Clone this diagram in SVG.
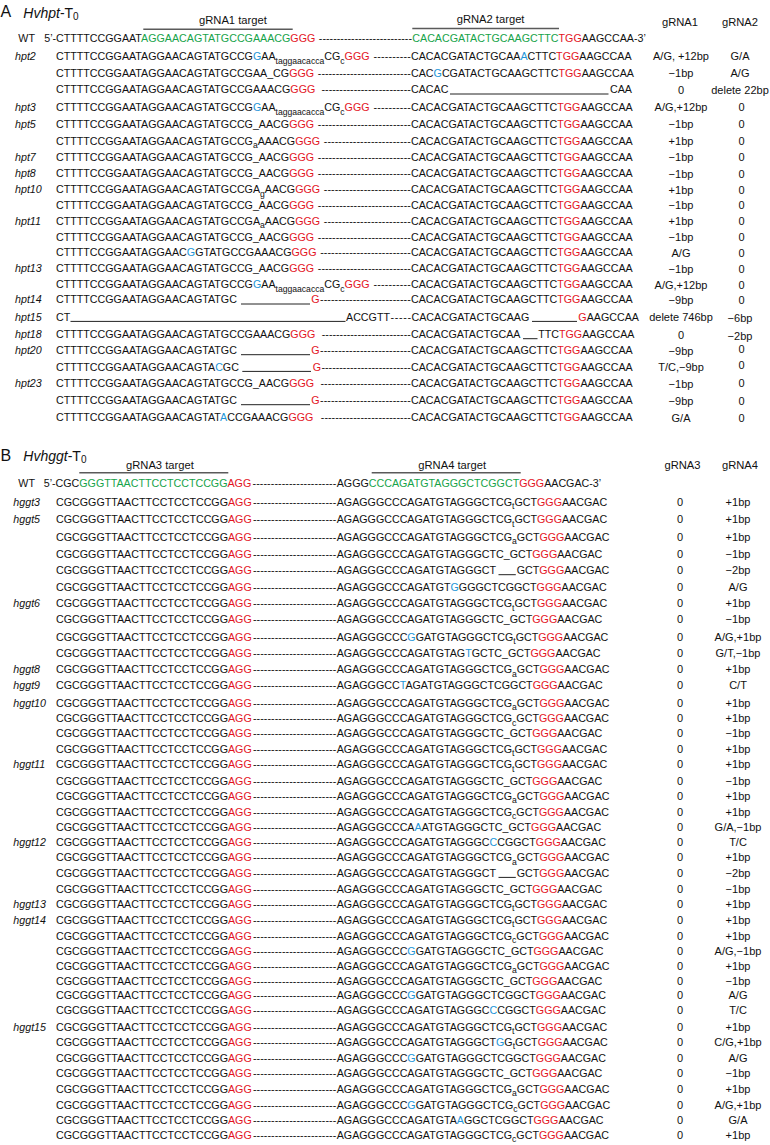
<svg xmlns="http://www.w3.org/2000/svg" width="770" height="1145" viewBox="0 0 770 1145">
<style>
text{font-family:"Liberation Sans",Arial,Helvetica,sans-serif;fill:#111}
.s{font-size:10.7px}
.u{font-size:8.6px}
.g{fill:#17a34a}
.r{fill:#e3141e}
.b{fill:#2295d8}
.i{font-style:italic;font-size:10.7px}
.v{font-size:11px;text-anchor:middle}
.h{font-size:11.2px}
.hc{font-size:11.2px;text-anchor:middle}
.t{font-size:14px}
.big{font-size:16px}
.ol{stroke:#5a5a5a;stroke-width:1.5}
.dl{stroke:#222;stroke-width:1}
</style>
<rect width="770" height="1145" fill="#fff"/>
<g id="sectionA">
<g id="titleA"><text class="big" x="0.5" y="17.4">A</text><text class="t" x="23.3" y="17.6"><tspan font-style="italic">Hvhpt</tspan>-T<tspan font-size="10" dy="2">0</tspan></text></g>
<g id="gRNA1-target"><line class="ol" x1="143.3" y1="29.3" x2="292.7" y2="29.3"/><text class="h" x="199" y="23.8">gRNA1 target</text></g>
<g id="gRNA2-target"><line class="ol" x1="412.3" y1="28.6" x2="559" y2="28.6"/><text class="h" x="456.7" y="23.3">gRNA2 target</text></g>
<g id="headA"><text class="hc" x="680" y="25.7">gRNA1</text><text class="hc" x="740" y="25.7">gRNA2</text></g>
<g id="A-WT">
<text class="s" x="18.3" y="42.2">WT</text>
<text class="s" x="44.3" y="42.2">5’-<tspan x="56">CTTTTCCGGAAT</tspan><tspan class="g">AGGAACAGTATGCCGAAACG</tspan><tspan class="r">GGG</tspan></text>
<text class="s" x="318.8" y="42.2" textLength="93.2" lengthAdjust="spacing">--------------------------</text>
<text class="s" x="412.3" y="42.2"><tspan class="g">CACACGATACTGCAAGCTTC</tspan><tspan class="r">TGG</tspan>AAGCCAA-3’</text>
</g>
<g id="hpt2-1">
<text class="i" x="15" y="59.9">hpt2</text>
<text class="s" x="56" y="59.9">CTTTTCCGGAATAGGAACAGTATGCCG<tspan class="b">G</tspan>AA<tspan class="u" dy="4">taggaacacca</tspan><tspan dy="-4">CG</tspan><tspan class="u" dy="4">c</tspan><tspan class="r" dy="-4">GGG</tspan></text>
<text class="s" x="373.4" y="59.9" textLength="37.4" lengthAdjust="spacing">----------</text>
<text class="s" x="411" y="59.9">CACACGATACTGCAA<tspan class="b">A</tspan>CTTC<tspan class="r">TGG</tspan>AAGCCAA</text>
<text class="v" x="681" y="60.2">A/G, +12bp</text><text class="v" x="740" y="60.2">G/A</text>
</g>
<g id="hpt2-2">
<text class="s" x="56" y="76.6">CTTTTCCGGAATAGGAACAGTATGCCGAA_CG<tspan class="r">GGG</tspan></text>
<text class="s" x="317.8" y="76.6" textLength="93" lengthAdjust="spacing">--------------------------</text>
<text class="s" x="411" y="76.6">CAC<tspan class="b">G</tspan>CGATACTGCAAGCTTC<tspan class="r">TGG</tspan>AAGCCAA</text>
<text class="v" x="681" y="76.9">−1bp</text><text class="v" x="740" y="76.9">A/G</text>
</g>
<g id="hpt2-3">
<text class="s" x="56" y="93.2">CTTTTCCGGAATAGGAACAGTATGCCGAAACG<tspan class="r">GGG</tspan></text>
<text class="s" x="321.5" y="93.2" textLength="89.3" lengthAdjust="spacing">-------------------------</text>
<text class="s" x="411" y="93.2">CACAC<tspan x="610">CAA</tspan></text>
<line class="dl" x1="450" y1="94" x2="608.5" y2="94"/>
<text class="v" x="681" y="93.5">0</text><text class="v" x="740" y="93.5">delete 22bp</text>
</g>
<g id="hpt3">
<text class="i" x="15" y="110.6">hpt3</text>
<text class="s" x="56" y="110.6">CTTTTCCGGAATAGGAACAGTATGCCG<tspan class="b">G</tspan>AA<tspan class="u" dy="4">taggaacacca</tspan><tspan dy="-4">CG</tspan><tspan class="u" dy="4">c</tspan><tspan class="r" dy="-4">GGG</tspan></text>
<text class="s" x="373.4" y="110.6" textLength="37.4" lengthAdjust="spacing">----------</text>
<text class="s" x="411" y="110.6">CACACGATACTGCAAGCTTC<tspan class="r">TGG</tspan>AAGCCAA</text>
<text class="v" x="681" y="110.9">A/G,+12bp</text><text class="v" x="741.5" y="110.9">0</text>
</g>
<g id="hpt5-1">
<text class="i" x="15" y="127.9">hpt5</text>
<text class="s" x="56" y="127.9">CTTTTCCGGAATAGGAACAGTATGCCG_AACG<tspan class="r">GGG</tspan></text>
<text class="s" x="317.8" y="127.9" textLength="93" lengthAdjust="spacing">--------------------------</text>
<text class="s" x="411" y="127.9">CACACGATACTGCAAGCTTC<tspan class="r">TGG</tspan>AAGCCAA</text>
<text class="v" x="681" y="128.2">−1bp</text><text class="v" x="741.5" y="128.2">0</text>
</g>
<g id="hpt5-2">
<text class="s" x="56" y="144.9">CTTTTCCGGAATAGGAACAGTATGCCG<tspan class="u" dy="3.5">a</tspan><tspan dy="-3.5">AAACG</tspan><tspan class="r">GGG</tspan></text>
<text class="s" x="323.8" y="144.9" textLength="87" lengthAdjust="spacing">------------------------</text>
<text class="s" x="411" y="144.9">CACACGATACTGCAAGCTTC<tspan class="r">TGG</tspan>AAGCCAA</text>
<text class="v" x="681" y="145.2">+1bp</text><text class="v" x="741.5" y="145.2">0</text>
</g>
<g id="hpt7">
<text class="i" x="15" y="160.6">hpt7</text>
<text class="s" x="56" y="160.6">CTTTTCCGGAATAGGAACAGTATGCCG_AACG<tspan class="r">GGG</tspan></text>
<text class="s" x="317.8" y="160.6" textLength="93" lengthAdjust="spacing">--------------------------</text>
<text class="s" x="411" y="160.6">CACACGATACTGCAAGCTTC<tspan class="r">TGG</tspan>AAGCCAA</text>
<text class="v" x="681" y="160.9">−1bp</text><text class="v" x="741.5" y="160.9">0</text>
</g>
<g id="hpt8">
<text class="i" x="15" y="177.2">hpt8</text>
<text class="s" x="56" y="177.2">CTTTTCCGGAATAGGAACAGTATGCCG_AACG<tspan class="r">GGG</tspan></text>
<text class="s" x="317.8" y="177.2" textLength="93" lengthAdjust="spacing">--------------------------</text>
<text class="s" x="411" y="177.2">CACACGATACTGCAAGCTTC<tspan class="r">TGG</tspan>AAGCCAA</text>
<text class="v" x="681" y="177.5">−1bp</text><text class="v" x="741.5" y="177.5">0</text>
</g>
<g id="hpt10-1">
<text class="i" x="15" y="193.2">hpt10</text>
<text class="s" x="56" y="193.2">CTTTTCCGGAATAGGAACAGTATGCCGA<tspan class="u" dy="3.5">g</tspan><tspan dy="-3.5">AACG</tspan><tspan class="r">GGG</tspan></text>
<text class="s" x="323.8" y="193.2" textLength="87" lengthAdjust="spacing">------------------------</text>
<text class="s" x="411" y="193.2">CACACGATACTGCAAGCTTC<tspan class="r">TGG</tspan>AAGCCAA</text>
<text class="v" x="681" y="193.5">+1bp</text><text class="v" x="741.5" y="193.5">0</text>
</g>
<g id="hpt10-2">
<text class="s" x="56" y="208.9">CTTTTCCGGAATAGGAACAGTATGCCG_AACG<tspan class="r">GGG</tspan></text>
<text class="s" x="317.8" y="208.9" textLength="93" lengthAdjust="spacing">--------------------------</text>
<text class="s" x="411" y="208.9">CACACGATACTGCAAGCTTC<tspan class="r">TGG</tspan>AAGCCAA</text>
<text class="v" x="681" y="209.2">−1bp</text><text class="v" x="741.5" y="209.2">0</text>
</g>
<g id="hpt11-1">
<text class="i" x="15" y="224.6">hpt11</text>
<text class="s" x="56" y="224.6">CTTTTCCGGAATAGGAACAGTATGCCGA<tspan class="u" dy="3.5">a</tspan><tspan dy="-3.5">AACG</tspan><tspan class="r">GGG</tspan></text>
<text class="s" x="323.8" y="224.6" textLength="87" lengthAdjust="spacing">------------------------</text>
<text class="s" x="411" y="224.6">CACACGATACTGCAAGCTTC<tspan class="r">TGG</tspan>AAGCCAA</text>
<text class="v" x="681" y="224.9">+1bp</text><text class="v" x="741.5" y="224.9">0</text>
</g>
<g id="hpt11-2">
<text class="s" x="56" y="240.6">CTTTTCCGGAATAGGAACAGTATGCCG_AACG<tspan class="r">GGG</tspan></text>
<text class="s" x="317.8" y="240.6" textLength="93" lengthAdjust="spacing">--------------------------</text>
<text class="s" x="411" y="240.6">CACACGATACTGCAAGCTTC<tspan class="r">TGG</tspan>AAGCCAA</text>
<text class="v" x="681" y="240.9">−1bp</text><text class="v" x="741.5" y="240.9">0</text>
</g>
<g id="hpt11-3">
<text class="s" x="56" y="256.2">CTTTTCCGGAATAGGAAC<tspan class="b">G</tspan>GTATGCCGAAACG<tspan class="r">GGG</tspan></text>
<text class="s" x="320.2" y="256.2" textLength="90.6" lengthAdjust="spacing">-------------------------</text>
<text class="s" x="411" y="256.2">CACACGATACTGCAAGCTTC<tspan class="r">TGG</tspan>AAGCCAA</text>
<text class="v" x="681" y="256.5">A/G</text><text class="v" x="741.5" y="256.5">0</text>
</g>
<g id="hpt13-1">
<text class="i" x="15" y="272.2">hpt13</text>
<text class="s" x="56" y="272.2">CTTTTCCGGAATAGGAACAGTATGCCG_AACG<tspan class="r">GGG</tspan></text>
<text class="s" x="317.8" y="272.2" textLength="93" lengthAdjust="spacing">--------------------------</text>
<text class="s" x="411" y="272.2">CACACGATACTGCAAGCTTC<tspan class="r">TGG</tspan>AAGCCAA</text>
<text class="v" x="681" y="272.5">−1bp</text><text class="v" x="741.5" y="272.5">0</text>
</g>
<g id="hpt13-2">
<text class="s" x="56" y="288.2">CTTTTCCGGAATAGGAACAGTATGCCG<tspan class="b">G</tspan>AA<tspan class="u" dy="4">taggaacacca</tspan><tspan dy="-4">CG</tspan><tspan class="u" dy="4">c</tspan><tspan class="r" dy="-4">GGG</tspan></text>
<text class="s" x="373.4" y="288.2" textLength="37.4" lengthAdjust="spacing">----------</text>
<text class="s" x="411" y="288.2">CACACGATACTGCAAGCTTC<tspan class="r">TGG</tspan>AAGCCAA</text>
<text class="v" x="681" y="288.5">A/G,+12bp</text><text class="v" x="741.5" y="288.5">0</text>
</g>
<g id="hpt14">
<text class="i" x="15" y="303.2">hpt14</text>
<text class="s" x="56" y="303.2">CTTTTCCGGAATAGGAACAGTATGC<tspan class="r" x="311.3">G</tspan></text>
<line class="dl" x1="241" y1="304" x2="310" y2="304"/>
<text class="s" x="320" y="303.2" textLength="90.8" lengthAdjust="spacing">-------------------------</text>
<text class="s" x="411" y="303.2">CACACGATACTGCAAGCTTC<tspan class="r">TGG</tspan>AAGCCAA</text>
<text class="v" x="681" y="303.5">−9bp</text><text class="v" x="741.5" y="303.5">0</text>
</g>
<g id="hpt15">
<text class="i" x="15" y="320.6">hpt15</text>
<text class="s" x="56" y="320.6">CT<tspan x="346">ACCGTT</tspan></text>
<line class="dl" x1="70.5" y1="321.4" x2="345.5" y2="321.4"/>
<text class="s" x="390.4" y="320.6" textLength="20.6" lengthAdjust="spacing">-----</text>
<text class="s" x="411.5" y="320.6">CACACGATACTGCAAG<tspan class="r" x="578.3">G</tspan>AAGCCAA</text>
<line class="dl" x1="532" y1="321.4" x2="577" y2="321.4"/>
<text class="v" x="681" y="320.6">delete 746bp</text><text class="v" x="740" y="321.8">−6bp</text>
</g>
<g id="hpt18">
<text class="i" x="15" y="337.9">hpt18</text>
<text class="s" x="56" y="337.9">CTTTTCCGGAATAGGAACAGTATGCCGAAACG<tspan class="r">GGG</tspan></text>
<text class="s" x="321.8" y="337.9" textLength="89" lengthAdjust="spacing">-------------------------</text>
<text class="s" x="411" y="337.9">CACACGATACTGCAA<tspan x="538.2">TTC</tspan><tspan class="r">TGG</tspan>AAGCCAA</text>
<line class="dl" x1="523" y1="338.7" x2="537.5" y2="338.7"/>
<text class="v" x="681" y="338.6">0</text><text class="v" x="740" y="340.2">−2bp</text>
</g>
<g id="hpt20-1">
<text class="i" x="15" y="353.9">hpt20</text>
<text class="s" x="56" y="353.9">CTTTTCCGGAATAGGAACAGTATGC<tspan class="r" x="311.3">G</tspan></text>
<line class="dl" x1="241" y1="354.7" x2="310" y2="354.7"/>
<text class="s" x="320" y="353.9" textLength="90.8" lengthAdjust="spacing">-------------------------</text>
<text class="s" x="411" y="353.9">CACACGATACTGCAAGCTTC<tspan class="r">TGG</tspan>AAGCCAA</text>
<text class="v" x="681" y="354.6">−9bp</text><text class="v" x="741.5" y="353.4">0</text>
</g>
<g id="hpt20-2">
<text class="s" x="56" y="370.6">CTTTTCCGGAATAGGAACAGTA<tspan class="b">C</tspan>GC<tspan class="r" x="312.8">G</tspan></text>
<line class="dl" x1="242.3" y1="371.4" x2="311" y2="371.4"/>
<text class="s" x="321.4" y="370.6" textLength="89.4" lengthAdjust="spacing">-------------------------</text>
<text class="s" x="411" y="370.6">CACACGATACTGCAAGCTTC<tspan class="r">TGG</tspan>AAGCCAA</text>
<text class="v" x="681" y="370.9">T/C,−9bp</text><text class="v" x="741.5" y="369.4">0</text>
</g>
<g id="hpt23-1">
<text class="i" x="15" y="387.2">hpt23</text>
<text class="s" x="56" y="387.2">CTTTTCCGGAATAGGAACAGTATGCCG_AACG<tspan class="r">GGG</tspan></text>
<text class="s" x="320.5" y="387.2" textLength="90.3" lengthAdjust="spacing">-------------------------</text>
<text class="s" x="411" y="387.2">CACACGATACTGCAAGCTTC<tspan class="r">TGG</tspan>AAGCCAA</text>
<text class="v" x="681" y="387.5">−1bp</text><text class="v" x="741.5" y="386.5">0</text>
</g>
<g id="hpt23-2">
<text class="s" x="56" y="403.9">CTTTTCCGGAATAGGAACAGTATGC<tspan class="r" x="311.3">G</tspan></text>
<line class="dl" x1="241" y1="404.7" x2="310" y2="404.7"/>
<text class="s" x="320" y="403.9" textLength="90.8" lengthAdjust="spacing">-------------------------</text>
<text class="s" x="411" y="403.9">CACACGATACTGCAAGCTTC<tspan class="r">TGG</tspan>AAGCCAA</text>
<text class="v" x="681" y="404.6">−9bp</text><text class="v" x="741.5" y="404.6">0</text>
</g>
<g id="hpt23-3">
<text class="s" x="56" y="420.6">CTTTTCCGGAATAGGAACAGTAT<tspan class="b">A</tspan>CCGAAACG<tspan class="r">GGG</tspan></text>
<text class="s" x="320.8" y="420.6" textLength="90" lengthAdjust="spacing">-------------------------</text>
<text class="s" x="411" y="420.6">CACACGATACTGCAAGCTTC<tspan class="r">TGG</tspan>AAGCCAA</text>
<text class="v" x="681" y="421.6">G/A</text><text class="v" x="741.5" y="421.6">0</text>
</g>
</g>
<g id="sectionB">
<g id="titleB"><text class="big" x="0.5" y="460.8">B</text><text class="t" x="23.3" y="461"><tspan font-style="italic">Hvhggt</tspan>-T<tspan font-size="10" dy="2">0</tspan></text></g>
<g id="gRNA3-target"><line class="ol" x1="79.3" y1="472.7" x2="228.3" y2="472.7"/><text class="h" x="126" y="469">gRNA3 target</text></g>
<g id="gRNA4-target"><line class="ol" x1="371.7" y1="472.7" x2="520.7" y2="472.7"/><text class="h" x="418.3" y="469">gRNA4 target</text></g>
<g id="headB"><text class="hc" x="682.5" y="469">gRNA3</text><text class="hc" x="740" y="469">gRNA4</text></g>
<g id="B-WT">
<text class="s" x="18.3" y="487.2">WT</text>
<text class="s" x="43.7" y="487.2">5’-<tspan x="55.5">CGC</tspan><tspan class="g">GGGTTAACTTCCTCCTCCGG</tspan><tspan class="r">AGG</tspan></text>
<text class="s" x="252.5" y="487.2" textLength="83.8" lengthAdjust="spacing">-----------------------</text>
<text class="s" x="336.7" y="487.2">AGGG<tspan class="g">CCCAGATGTAGGGCTCGGCT</tspan><tspan class="r">GGG</tspan>AACGAC-3’</text>
</g>
<g id="hggt3"><text class="i" x="13.3" y="505.6">hggt3</text><text class="s" x="56" y="505.6">CGCGGGTTAACTTCCTCCTCCGG<tspan class="r">AGG</tspan></text><text class="s" x="253" y="505.6" textLength="83.3" lengthAdjust="spacing">-----------------------</text><text class="s" x="336.7" y="505.6">AGAGGGCCCAGATGTAGGGCTCG<tspan class="u" dy="3.5">t</tspan><tspan dy="-3.5">GCT</tspan><tspan class="r">GGG</tspan>AACGAC</text><text class="v" x="680" y="505.6">0</text><text class="v" x="738" y="505.6">+1bp</text></g>
<g id="hggt5-1"><text class="i" x="13.3" y="523.2">hggt5</text><text class="s" x="56" y="523.2">CGCGGGTTAACTTCCTCCTCCGG<tspan class="r">AGG</tspan></text><text class="s" x="253" y="523.2" textLength="83.3" lengthAdjust="spacing">-----------------------</text><text class="s" x="336.7" y="523.2">AGAGGGCCCAGATGTAGGGCTCG<tspan class="u" dy="3.5">t</tspan><tspan dy="-3.5">GCT</tspan><tspan class="r">GGG</tspan>AACGAC</text><text class="v" x="680" y="523.2">0</text><text class="v" x="738" y="523.2">+1bp</text></g>
<g id="hggt5-2"><text class="s" x="56" y="540.6">CGCGGGTTAACTTCCTCCTCCGG<tspan class="r">AGG</tspan></text><text class="s" x="253" y="540.6" textLength="83.3" lengthAdjust="spacing">-----------------------</text><text class="s" x="336.7" y="540.6">AGAGGGCCCAGATGTAGGGCTCG<tspan class="u" dy="3.5">a</tspan><tspan dy="-3.5">GCT</tspan><tspan class="r">GGG</tspan>AACGAC</text><text class="v" x="680" y="540.6">0</text><text class="v" x="738" y="540.6">+1bp</text></g>
<g id="hggt5-3"><text class="s" x="56" y="557.9">CGCGGGTTAACTTCCTCCTCCGG<tspan class="r">AGG</tspan></text><text class="s" x="253" y="557.9" textLength="83.3" lengthAdjust="spacing">-----------------------</text><text class="s" x="336.7" y="557.9">AGAGGGCCCAGATGTAGGGCTC_GCT<tspan class="r">GGG</tspan>AACGAC</text><text class="v" x="680" y="557.9">0</text><text class="v" x="738" y="557.9">−1bp</text></g>
<g id="hggt5-4"><text class="s" x="56" y="573.9">CGCGGGTTAACTTCCTCCTCCGG<tspan class="r">AGG</tspan></text><text class="s" x="253" y="573.9" textLength="83.3" lengthAdjust="spacing">-----------------------</text><text class="s" x="336.7" y="573.9">AGAGGGCCCAGATGTAGGGCT<tspan x="516.7">GCT</tspan><tspan class="r">GGG</tspan>AACGAC</text><line class="dl" x1="498.5" y1="574.7" x2="515.8" y2="574.7"/><text class="v" x="680" y="573.9">0</text><text class="v" x="738" y="573.9">−2bp</text></g>
<g id="hggt5-5"><text class="s" x="56" y="591.2">CGCGGGTTAACTTCCTCCTCCGG<tspan class="r">AGG</tspan></text><text class="s" x="253" y="591.2" textLength="83.3" lengthAdjust="spacing">-----------------------</text><text class="s" x="336.7" y="591.2">AGAGGGCCCAGATGT<tspan class="b">G</tspan>GGGCTCGGCT<tspan class="r">GGG</tspan>AACGAC</text><text class="v" x="680" y="591.2">0</text><text class="v" x="738" y="591.2">A/G</text></g>
<g id="hggt6-1"><text class="i" x="13.3" y="607.2">hggt6</text><text class="s" x="56" y="607.2">CGCGGGTTAACTTCCTCCTCCGG<tspan class="r">AGG</tspan></text><text class="s" x="253" y="607.2" textLength="83.3" lengthAdjust="spacing">-----------------------</text><text class="s" x="336.7" y="607.2">AGAGGGCCCAGATGTAGGGCTCG<tspan class="u" dy="3.5">t</tspan><tspan dy="-3.5">GCT</tspan><tspan class="r">GGG</tspan>AACGAC</text><text class="v" x="680" y="607.2">0</text><text class="v" x="738" y="607.2">+1bp</text></g>
<g id="hggt6-2"><text class="s" x="56" y="623.2">CGCGGGTTAACTTCCTCCTCCGG<tspan class="r">AGG</tspan></text><text class="s" x="253" y="623.2" textLength="83.3" lengthAdjust="spacing">-----------------------</text><text class="s" x="336.7" y="623.2">AGAGGGCCCAGATGTAGGGCTC_GCT<tspan class="r">GGG</tspan>AACGAC</text><text class="v" x="680" y="623.2">0</text><text class="v" x="738" y="623.2">−1bp</text></g>
<g id="hggt6-3"><text class="s" x="56" y="640.6">CGCGGGTTAACTTCCTCCTCCGG<tspan class="r">AGG</tspan></text><text class="s" x="253" y="640.6" textLength="83.3" lengthAdjust="spacing">-----------------------</text><text class="s" x="336.7" y="640.6">AGAGGGCCC<tspan class="b">G</tspan>GATGTAGGGCTCG<tspan class="u" dy="3.5">t</tspan><tspan dy="-3.5">GCT</tspan><tspan class="r">GGG</tspan>AACGAC</text><text class="v" x="680" y="640.6">0</text><text class="v" x="738" y="640.6">A/G,+1bp</text></g>
<g id="hggt6-4"><text class="s" x="56" y="657.2">CGCGGGTTAACTTCCTCCTCCGG<tspan class="r">AGG</tspan></text><text class="s" x="253" y="657.2" textLength="83.3" lengthAdjust="spacing">-----------------------</text><text class="s" x="336.7" y="657.2">AGAGGGCCCAGATGTAG<tspan class="b">T</tspan>GCTC_GCT<tspan class="r">GGG</tspan>AACGAC</text><text class="v" x="680" y="657.2">0</text><text class="v" x="738" y="657.2">G/T,−1bp</text></g>
<g id="hggt8"><text class="i" x="13.3" y="673.2">hggt8</text><text class="s" x="56" y="673.2">CGCGGGTTAACTTCCTCCTCCGG<tspan class="r">AGG</tspan></text><text class="s" x="253" y="673.2" textLength="83.3" lengthAdjust="spacing">-----------------------</text><text class="s" x="336.7" y="673.2">AGAGGGCCCAGATGTAGGGCTCG<tspan class="u" dy="3.5">a</tspan><tspan dy="-3.5">GCT</tspan><tspan class="r">GGG</tspan>AACGAC</text><text class="v" x="680" y="673.2">0</text><text class="v" x="738" y="673.2">+1bp</text></g>
<g id="hggt9"><text class="i" x="13.3" y="688.9">hggt9</text><text class="s" x="56" y="688.9">CGCGGGTTAACTTCCTCCTCCGG<tspan class="r">AGG</tspan></text><text class="s" x="253" y="688.9" textLength="83.3" lengthAdjust="spacing">-----------------------</text><text class="s" x="336.7" y="688.9">AGAGGGCC<tspan class="b">T</tspan>AGATGTAGGGCTCGGCT<tspan class="r">GGG</tspan>AACGAC</text><text class="v" x="680" y="688.9">0</text><text class="v" x="738" y="688.9">C/T</text></g>
<g id="hggt10-1"><text class="i" x="13.3" y="706.6">hggt10</text><text class="s" x="56" y="706.6">CGCGGGTTAACTTCCTCCTCCGG<tspan class="r">AGG</tspan></text><text class="s" x="253" y="706.6" textLength="83.3" lengthAdjust="spacing">-----------------------</text><text class="s" x="336.7" y="706.6">AGAGGGCCCAGATGTAGGGCTCG<tspan class="u" dy="3.5">a</tspan><tspan dy="-3.5">GCT</tspan><tspan class="r">GGG</tspan>AACGAC</text><text class="v" x="680" y="706.6">0</text><text class="v" x="738" y="706.6">+1bp</text></g>
<g id="hggt10-2"><text class="s" x="56" y="722.2">CGCGGGTTAACTTCCTCCTCCGG<tspan class="r">AGG</tspan></text><text class="s" x="253" y="722.2" textLength="83.3" lengthAdjust="spacing">-----------------------</text><text class="s" x="336.7" y="722.2">AGAGGGCCCAGATGTAGGGCTCG<tspan class="u" dy="3.5">c</tspan><tspan dy="-3.5">GCT</tspan><tspan class="r">GGG</tspan>AACGAC</text><text class="v" x="680" y="722.2">0</text><text class="v" x="738" y="722.2">+1bp</text></g>
<g id="hggt10-3"><text class="s" x="56" y="736.6">CGCGGGTTAACTTCCTCCTCCGG<tspan class="r">AGG</tspan></text><text class="s" x="253" y="736.6" textLength="83.3" lengthAdjust="spacing">-----------------------</text><text class="s" x="336.7" y="736.6">AGAGGGCCCAGATGTAGGGCTC_GCT<tspan class="r">GGG</tspan>AACGAC</text><text class="v" x="680" y="736.6">0</text><text class="v" x="738" y="736.6">−1bp</text></g>
<g id="hggt10-4"><text class="s" x="56" y="752.9">CGCGGGTTAACTTCCTCCTCCGG<tspan class="r">AGG</tspan></text><text class="s" x="253" y="752.9" textLength="83.3" lengthAdjust="spacing">-----------------------</text><text class="s" x="336.7" y="752.9">AGAGGGCCCAGATGTAGGGCTCG<tspan class="u" dy="3.5">t</tspan><tspan dy="-3.5">GCT</tspan><tspan class="r">GGG</tspan>AACGAC</text><text class="v" x="680" y="752.9">0</text><text class="v" x="738" y="752.9">+1bp</text></g>
<g id="hggt11-1"><text class="i" x="13.3" y="768.2">hggt11</text><text class="s" x="56" y="768.2">CGCGGGTTAACTTCCTCCTCCGG<tspan class="r">AGG</tspan></text><text class="s" x="253" y="768.2" textLength="83.3" lengthAdjust="spacing">-----------------------</text><text class="s" x="336.7" y="768.2">AGAGGGCCCAGATGTAGGGCTCG<tspan class="u" dy="3.5">t</tspan><tspan dy="-3.5">GCT</tspan><tspan class="r">GGG</tspan>AACGAC</text><text class="v" x="680" y="768.2">0</text><text class="v" x="738" y="768.2">+1bp</text></g>
<g id="hggt11-2"><text class="s" x="56" y="784.6">CGCGGGTTAACTTCCTCCTCCGG<tspan class="r">AGG</tspan></text><text class="s" x="253" y="784.6" textLength="83.3" lengthAdjust="spacing">-----------------------</text><text class="s" x="336.7" y="784.6">AGAGGGCCCAGATGTAGGGCTC_GCT<tspan class="r">GGG</tspan>AACGAC</text><text class="v" x="680" y="784.6">0</text><text class="v" x="738" y="784.6">−1bp</text></g>
<g id="hggt11-3"><text class="s" x="56" y="799.9">CGCGGGTTAACTTCCTCCTCCGG<tspan class="r">AGG</tspan></text><text class="s" x="253" y="799.9" textLength="83.3" lengthAdjust="spacing">-----------------------</text><text class="s" x="336.7" y="799.9">AGAGGGCCCAGATGTAGGGCTCG<tspan class="u" dy="3.5">a</tspan><tspan dy="-3.5">GCT</tspan><tspan class="r">GGG</tspan>AACGAC</text><text class="v" x="680" y="799.9">0</text><text class="v" x="738" y="799.9">+1bp</text></g>
<g id="hggt11-4"><text class="s" x="56" y="815.6">CGCGGGTTAACTTCCTCCTCCGG<tspan class="r">AGG</tspan></text><text class="s" x="253" y="815.6" textLength="83.3" lengthAdjust="spacing">-----------------------</text><text class="s" x="336.7" y="815.6">AGAGGGCCCAGATGTAGGGCTCG<tspan class="u" dy="3.5">c</tspan><tspan dy="-3.5">GCT</tspan><tspan class="r">GGG</tspan>AACGAC</text><text class="v" x="680" y="815.6">0</text><text class="v" x="738" y="815.6">+1bp</text></g>
<g id="hggt11-5"><text class="s" x="56" y="830.6">CGCGGGTTAACTTCCTCCTCCGG<tspan class="r">AGG</tspan></text><text class="s" x="253" y="830.6" textLength="83.3" lengthAdjust="spacing">-----------------------</text><text class="s" x="336.7" y="830.6">AGAGGGCCCA<tspan class="b">A</tspan>ATGTAGGGCTC_GCT<tspan class="r">GGG</tspan>AACGAC</text><text class="v" x="680" y="830.6">0</text><text class="v" x="738" y="830.6">G/A,−1bp</text></g>
<g id="hggt12-1"><text class="i" x="13.3" y="845.6">hggt12</text><text class="s" x="56" y="845.6">CGCGGGTTAACTTCCTCCTCCGG<tspan class="r">AGG</tspan></text><text class="s" x="253" y="845.6" textLength="83.3" lengthAdjust="spacing">-----------------------</text><text class="s" x="336.7" y="845.6">AGAGGGCCCAGATGTAGGGC<tspan class="b">C</tspan>CGGCT<tspan class="r">GGG</tspan>AACGAC</text><text class="v" x="680" y="845.6">0</text><text class="v" x="738" y="845.6">T/C</text></g>
<g id="hggt12-2"><text class="s" x="56" y="861.2">CGCGGGTTAACTTCCTCCTCCGG<tspan class="r">AGG</tspan></text><text class="s" x="253" y="861.2" textLength="83.3" lengthAdjust="spacing">-----------------------</text><text class="s" x="336.7" y="861.2">AGAGGGCCCAGATGTAGGGCTCG<tspan class="u" dy="3.5">a</tspan><tspan dy="-3.5">GCT</tspan><tspan class="r">GGG</tspan>AACGAC</text><text class="v" x="680" y="861.2">0</text><text class="v" x="738" y="861.2">+1bp</text></g>
<g id="hggt12-3"><text class="s" x="56" y="876.6">CGCGGGTTAACTTCCTCCTCCGG<tspan class="r">AGG</tspan></text><text class="s" x="253" y="876.6" textLength="83.3" lengthAdjust="spacing">-----------------------</text><text class="s" x="336.7" y="876.6">AGAGGGCCCAGATGTAGGGCT<tspan x="516.7">GCT</tspan><tspan class="r">GGG</tspan>AACGAC</text><line class="dl" x1="498.5" y1="877.4" x2="515.8" y2="877.4"/><text class="v" x="680" y="876.6">0</text><text class="v" x="738" y="876.6">−2bp</text></g>
<g id="hggt12-4"><text class="s" x="56" y="892.9">CGCGGGTTAACTTCCTCCTCCGG<tspan class="r">AGG</tspan></text><text class="s" x="253" y="892.9" textLength="83.3" lengthAdjust="spacing">-----------------------</text><text class="s" x="336.7" y="892.9">AGAGGGCCCAGATGTAGGGCTC_GCT<tspan class="r">GGG</tspan>AACGAC</text><text class="v" x="680" y="892.9">0</text><text class="v" x="738" y="892.9">−1bp</text></g>
<g id="hggt13"><text class="i" x="13.3" y="907.9">hggt13</text><text class="s" x="56" y="907.9">CGCGGGTTAACTTCCTCCTCCGG<tspan class="r">AGG</tspan></text><text class="s" x="253" y="907.9" textLength="83.3" lengthAdjust="spacing">-----------------------</text><text class="s" x="336.7" y="907.9">AGAGGGCCCAGATGTAGGGCTCG<tspan class="u" dy="3.5">t</tspan><tspan dy="-3.5">GCT</tspan><tspan class="r">GGG</tspan>AACGAC</text><text class="v" x="680" y="907.9">0</text><text class="v" x="738" y="907.9">+1bp</text></g>
<g id="hggt14-1"><text class="i" x="13.3" y="923.9">hggt14</text><text class="s" x="56" y="923.9">CGCGGGTTAACTTCCTCCTCCGG<tspan class="r">AGG</tspan></text><text class="s" x="253" y="923.9" textLength="83.3" lengthAdjust="spacing">-----------------------</text><text class="s" x="336.7" y="923.9">AGAGGGCCCAGATGTAGGGCTCG<tspan class="u" dy="3.5">t</tspan><tspan dy="-3.5">GCT</tspan><tspan class="r">GGG</tspan>AACGAC</text><text class="v" x="680" y="923.9">0</text><text class="v" x="738" y="923.9">+1bp</text></g>
<g id="hggt14-2"><text class="s" x="56" y="939.6">CGCGGGTTAACTTCCTCCTCCGG<tspan class="r">AGG</tspan></text><text class="s" x="253" y="939.6" textLength="83.3" lengthAdjust="spacing">-----------------------</text><text class="s" x="336.7" y="939.6">AGAGGGCCCAGATGTAGGGCTCG<tspan class="u" dy="3.5">c</tspan><tspan dy="-3.5">GCT</tspan><tspan class="r">GGG</tspan>AACGAC</text><text class="v" x="680" y="939.6">0</text><text class="v" x="738" y="939.6">+1bp</text></g>
<g id="hggt14-3"><text class="s" x="56" y="954.9">CGCGGGTTAACTTCCTCCTCCGG<tspan class="r">AGG</tspan></text><text class="s" x="253" y="954.9" textLength="83.3" lengthAdjust="spacing">-----------------------</text><text class="s" x="336.7" y="954.9">AGAGGGCCC<tspan class="b">G</tspan>GATGTAGGGCTC_GCT<tspan class="r">GGG</tspan>AACGAC</text><text class="v" x="680" y="954.9">0</text><text class="v" x="738" y="954.9">A/G,−1bp</text></g>
<g id="hggt14-4"><text class="s" x="56" y="969.6">CGCGGGTTAACTTCCTCCTCCGG<tspan class="r">AGG</tspan></text><text class="s" x="253" y="969.6" textLength="83.3" lengthAdjust="spacing">-----------------------</text><text class="s" x="336.7" y="969.6">AGAGGGCCCAGATGTAGGGCTCG<tspan class="u" dy="3.5">a</tspan><tspan dy="-3.5">GCT</tspan><tspan class="r">GGG</tspan>AACGAC</text><text class="v" x="680" y="969.6">0</text><text class="v" x="738" y="969.6">+1bp</text></g>
<g id="hggt14-5"><text class="s" x="56" y="984.9">CGCGGGTTAACTTCCTCCTCCGG<tspan class="r">AGG</tspan></text><text class="s" x="253" y="984.9" textLength="83.3" lengthAdjust="spacing">-----------------------</text><text class="s" x="336.7" y="984.9">AGAGGGCCCAGATGTAGGGCTC_GCT<tspan class="r">GGG</tspan>AACGAC</text><text class="v" x="680" y="984.9">0</text><text class="v" x="738" y="984.9">−1bp</text></g>
<g id="hggt14-6"><text class="s" x="56" y="998.9">CGCGGGTTAACTTCCTCCTCCGG<tspan class="r">AGG</tspan></text><text class="s" x="253" y="998.9" textLength="83.3" lengthAdjust="spacing">-----------------------</text><text class="s" x="336.7" y="998.9">AGAGGGCCC<tspan class="b">G</tspan>GATGTAGGGCTCGGCT<tspan class="r">GGG</tspan>AACGAC</text><text class="v" x="680" y="998.9">0</text><text class="v" x="738" y="998.9">A/G</text></g>
<g id="hggt14-7"><text class="s" x="56" y="1013.9">CGCGGGTTAACTTCCTCCTCCGG<tspan class="r">AGG</tspan></text><text class="s" x="253" y="1013.9" textLength="83.3" lengthAdjust="spacing">-----------------------</text><text class="s" x="336.7" y="1013.9">AGAGGGCCCAGATGTAGGGC<tspan class="b">C</tspan>CGGCT<tspan class="r">GGG</tspan>AACGAC</text><text class="v" x="680" y="1013.9">0</text><text class="v" x="738" y="1013.9">T/C</text></g>
<g id="hggt15-1"><text class="i" x="13.3" y="1030.6">hggt15</text><text class="s" x="56" y="1030.6">CGCGGGTTAACTTCCTCCTCCGG<tspan class="r">AGG</tspan></text><text class="s" x="253" y="1030.6" textLength="83.3" lengthAdjust="spacing">-----------------------</text><text class="s" x="336.7" y="1030.6">AGAGGGCCCAGATGTAGGGCTCG<tspan class="u" dy="3.5">t</tspan><tspan dy="-3.5">GCT</tspan><tspan class="r">GGG</tspan>AACGAC</text><text class="v" x="680" y="1030.6">0</text><text class="v" x="738" y="1030.6">+1bp</text></g>
<g id="hggt15-2"><text class="s" x="56" y="1045.9">CGCGGGTTAACTTCCTCCTCCGG<tspan class="r">AGG</tspan></text><text class="s" x="253" y="1045.9" textLength="83.3" lengthAdjust="spacing">-----------------------</text><text class="s" x="336.7" y="1045.9">AGAGGGCCCAGATGTAGGGCT<tspan class="b">G</tspan>G<tspan class="u" dy="3.5">t</tspan><tspan dy="-3.5">GCT</tspan><tspan class="r">GGG</tspan>AACGAC</text><text class="v" x="680" y="1045.9">0</text><text class="v" x="738" y="1045.9">C/G,+1bp</text></g>
<g id="hggt15-3"><text class="s" x="56" y="1061.6">CGCGGGTTAACTTCCTCCTCCGG<tspan class="r">AGG</tspan></text><text class="s" x="253" y="1061.6" textLength="83.3" lengthAdjust="spacing">-----------------------</text><text class="s" x="336.7" y="1061.6">AGAGGGCCC<tspan class="b">G</tspan>GATGTAGGGCTCGGCT<tspan class="r">GGG</tspan>AACGAC</text><text class="v" x="680" y="1061.6">0</text><text class="v" x="738" y="1061.6">A/G</text></g>
<g id="hggt15-4"><text class="s" x="56" y="1076.9">CGCGGGTTAACTTCCTCCTCCGG<tspan class="r">AGG</tspan></text><text class="s" x="253" y="1076.9" textLength="83.3" lengthAdjust="spacing">-----------------------</text><text class="s" x="336.7" y="1076.9">AGAGGGCCCAGATGTAGGGCTC_GCT<tspan class="r">GGG</tspan>AACGAC</text><text class="v" x="680" y="1076.9">0</text><text class="v" x="738" y="1076.9">−1bp</text></g>
<g id="hggt15-5"><text class="s" x="56" y="1092.9">CGCGGGTTAACTTCCTCCTCCGG<tspan class="r">AGG</tspan></text><text class="s" x="253" y="1092.9" textLength="83.3" lengthAdjust="spacing">-----------------------</text><text class="s" x="336.7" y="1092.9">AGAGGGCCCAGATGTAGGGCTCG<tspan class="u" dy="3.5">a</tspan><tspan dy="-3.5">GCT</tspan><tspan class="r">GGG</tspan>AACGAC</text><text class="v" x="680" y="1092.9">0</text><text class="v" x="738" y="1092.9">+1bp</text></g>
<g id="hggt15-6"><text class="s" x="56" y="1108.9">CGCGGGTTAACTTCCTCCTCCGG<tspan class="r">AGG</tspan></text><text class="s" x="253" y="1108.9" textLength="83.3" lengthAdjust="spacing">-----------------------</text><text class="s" x="336.7" y="1108.9">AGAGGGCCC<tspan class="b">G</tspan>GATGTAGGGCTCG<tspan class="u" dy="3.5">c</tspan><tspan dy="-3.5">GCT</tspan><tspan class="r">GGG</tspan>AACGAC</text><text class="v" x="680" y="1108.9">0</text><text class="v" x="738" y="1108.9">A/G,+1bp</text></g>
<g id="hggt15-7"><text class="s" x="56" y="1123.9">CGCGGGTTAACTTCCTCCTCCGG<tspan class="r">AGG</tspan></text><text class="s" x="253" y="1123.9" textLength="83.3" lengthAdjust="spacing">-----------------------</text><text class="s" x="336.7" y="1123.9">AGAGGGCCCAGATGTA<tspan class="b">A</tspan>GGCTCGGCT<tspan class="r">GGG</tspan>AACGAC</text><text class="v" x="680" y="1123.9">0</text><text class="v" x="738" y="1123.9">G/A</text></g>
<g id="hggt15-8"><text class="s" x="56" y="1138.9">CGCGGGTTAACTTCCTCCTCCGG<tspan class="r">AGG</tspan></text><text class="s" x="253" y="1138.9" textLength="83.3" lengthAdjust="spacing">-----------------------</text><text class="s" x="336.7" y="1138.9">AGAGGGCCCAGATGTAGGGCTCG<tspan class="u" dy="3.5">c</tspan><tspan dy="-3.5">GCT</tspan><tspan class="r">GGG</tspan>AACGAC</text><text class="v" x="680" y="1138.9">0</text><text class="v" x="738" y="1138.9">+1bp</text></g>
</g>
</svg>
